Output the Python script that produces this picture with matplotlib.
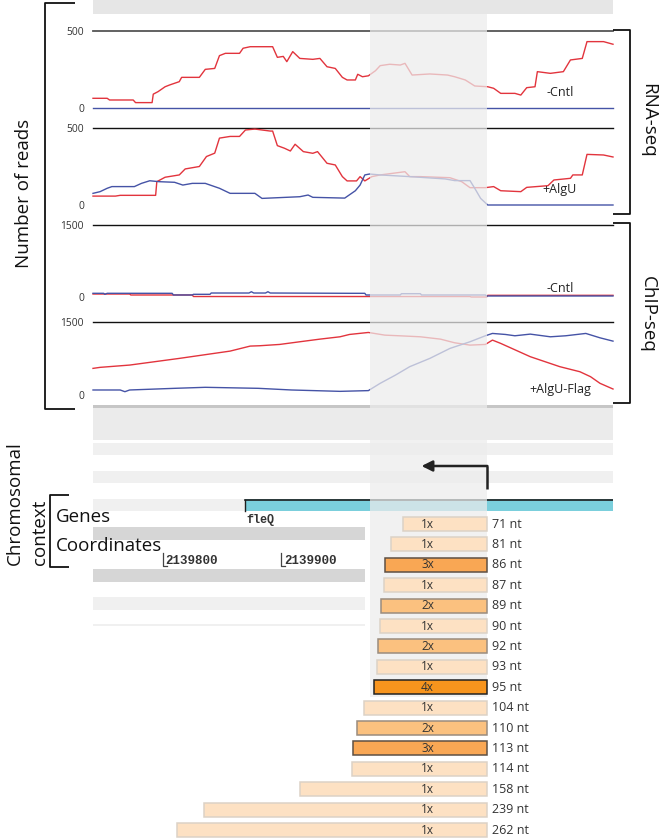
import matplotlib
matplotlib.use("Agg")
import matplotlib.pyplot as plt
from matplotlib.patches import Rectangle

plt.rcParams['font.family'] = ['Open Sans', 'DejaVu Sans']

# genome window shown by the browser
X0, X1 = 2139741, 2140181
TSS = 2140074
HL_START = 2139975
GENE_START = 2139870
GENE_NAME = 'fleQ'
COORD_TICKS = [2139800, 2139900]

# RNA-seq, -Cntl
rna_cntl_x = [2139741, 2139753, 2139755, 2139775, 2139777, 2139791, 2139792, 2139796, 2139802, 2139806,
              2139814, 2139816, 2139831, 2139836, 2139844, 2139848, 2139853, 2139865, 2139868, 2139874,
              2139893, 2139897, 2139902, 2139905, 2139910, 2139916, 2139927, 2139933, 2139939, 2139946,
              2139952, 2139956, 2139963, 2139965, 2139969, 2139974, 2139980, 2139984, 2139992, 2140001,
              2140005, 2140011, 2140026, 2140041, 2140047, 2140056, 2140064, 2140075, 2140080, 2140086,
              2140098, 2140103, 2140108, 2140115, 2140117, 2140128, 2140139, 2140145, 2140155, 2140159,
              2140173, 2140181]
rna_cntl_red = [63, 63, 52, 52, 35, 35, 90, 106, 138, 150,
                171, 199, 199, 251, 257, 340, 355, 355, 388, 398,
                398, 329, 335, 301, 366, 322, 316, 322, 268, 257,
                199, 182, 182, 219, 203, 209, 242, 275, 284, 279,
                290, 214, 221, 214, 203, 182, 143, 138, 128, 95,
                95, 84, 132, 138, 236, 225, 236, 312, 322, 431,
                431, 414]
rna_cntl_blue_x = [X0, X1]
rna_cntl_blue = [0, 0]

# RNA-seq, +AlgU
rna_algu_red_x = [2139741, 2139760, 2139764, 2139794, 2139795, 2139802, 2139814, 2139819, 2139831, 2139837,
                  2139844, 2139848, 2139857, 2139865, 2139870, 2139878, 2139891, 2139893, 2139897, 2139903,
                  2139908, 2139912, 2139919, 2139927, 2139931, 2139939, 2139946, 2139952, 2139956, 2139964,
                  2139967, 2139971, 2139977, 2139984, 2140005, 2140009, 2140018, 2140043, 2140053, 2140060,
                  2140073, 2140080, 2140086, 2140103, 2140108, 2140126, 2140131, 2140145, 2140147, 2140155,
                  2140159, 2140173, 2140181]
rna_algu_red = [58, 58, 63, 63, 152, 181, 196, 235, 251, 316,
                338, 436, 447, 447, 489, 495, 482, 482, 387, 370,
                352, 396, 348, 337, 348, 272, 261, 185, 157, 157,
                185, 157, 185, 196, 217, 185, 185, 178, 152, 113,
                113, 120, 93, 87, 115, 126, 163, 174, 196, 196,
                330, 326, 313]
rna_algu_blue_x = [2139741, 2139747, 2139753, 2139757, 2139776, 2139782, 2139789, 2139797, 2139810, 2139817,
                   2139825, 2139836, 2139848, 2139857, 2139878, 2139884, 2139916, 2139923, 2139927, 2139954,
                   2139963, 2139967, 2139971, 2139975, 2139984, 2140009, 2140039, 2140047, 2140060, 2140064,
                   2140069, 2140075, 2140181]
rna_algu_blue = [76, 87, 109, 120, 120, 141, 158, 152, 148, 130,
                 141, 141, 109, 76, 76, 43, 54, 65, 50, 45,
                 93, 130, 196, 202, 196, 185, 170, 159, 159, 109,
                 43, 0, 0]

# ChIP-seq, -Cntl
chip_cntl_blue_x = [2139741, 2139750, 2139751, 2139753, 2139808, 2139809, 2139825, 2139826, 2139840, 2139841,
                    2139873, 2139875, 2139877, 2139887, 2139889, 2139891, 2139958, 2139971, 2139972, 2140001,
                    2140002, 2140018, 2140019, 2140073, 2140074, 2140181]
chip_cntl_blue = [77, 77, 56, 77, 77, 42, 42, 56, 56, 83,
                  83, 110, 83, 83, 110, 83, 77, 77, 42, 42,
                  69, 69, 42, 42, 21, 21]
chip_cntl_red_x = [2139741, 2139772, 2139773, 2139825, 2139826, 2140060, 2140061, 2140074, 2140075, 2140181]
chip_cntl_red = [62, 62, 42, 42, 10, 10, 0, 0, 35, 35]

# ChIP-seq, +AlgU-Flag
chip_algu_red_x = [2139741, 2139747, 2139772, 2139814, 2139857, 2139874, 2139882, 2139899, 2139916, 2139933,
                   2139950, 2139958, 2139974, 2139988, 2140001, 2140018, 2140035, 2140047, 2140060, 2140073,
                   2140079, 2140086, 2140111, 2140136, 2140153, 2140162, 2140170, 2140181]
chip_algu_red = [547, 568, 615, 752, 902, 1005, 1012, 1039, 1094, 1148,
                 1196, 1244, 1285, 1230, 1216, 1196, 1148, 1073, 1025, 1039,
                 1128, 1060, 787, 582, 478, 376, 240, 123]
chip_algu_blue_x = [2139741, 2139764, 2139768, 2139772, 2139810, 2139836, 2139881, 2139909, 2139950, 2139974,
                    2139984, 2139997, 2140009, 2140026, 2140043, 2140060, 2140073, 2140079, 2140090, 2140098,
                    2140111, 2140128, 2140141, 2140158, 2140170, 2140181]
chip_algu_blue = [103, 103, 68, 103, 137, 158, 137, 103, 75, 90,
                  240, 410, 582, 752, 957, 1094, 1217, 1265, 1244, 1217,
                  1251, 1196, 1217, 1265, 1175, 1107]

# 5' RACE fragments upstream of the TSS
frag_len = [71, 81, 86, 87, 89, 90, 92, 93, 95, 104, 110, 113, 114, 158, 239, 262]
frag_count = [1, 1, 3, 1, 2, 1, 2, 1, 4, 1, 2, 3, 1, 1, 1, 1]

RED = '#e2343d'
BLUE = '#4553a6'
fill_col = {1: '#fde1c3', 2: '#fbc17f', 3: '#f9a754', 4: '#f7941d'}
edge_col = {1: '#dcd2c6', 2: '#9a8c7e', 3: '#5e5044', 4: '#222222'}

W, H = 660, 839
fig = plt.figure(figsize=(W / 100, H / 100), dpi=100)


def box(x0, y0, x1, y1):
    return [x0 / W, 1 - y1 / H, (x1 - x0) / W, (y1 - y0) / H]


# browser tracks (grey bands, gene, coordinates)
trk = fig.add_axes(box(93, 0, 613, 839), zorder=0)
trk.set_xlim(X0, X1)
trk.set_ylim(H, 0)
trk.axis('off')
bands = [(0, 14, '#e6e6e6', X1), (405, 407.5, '#c6c6c6', X1), (407.5, 440, '#ebebeb', X1),
         (443, 455, '#f0f0f0', X1), (471, 483, '#f0f0f0', X1), (499, 511, '#f0f0f0', X1),
         (527, 540, '#d6d6d6', 2139971), (569, 582, '#d6d6d6', 2139971),
         (597, 610, '#f0f0f0', 2139971), (624, 626, '#f0f0f0', 2139971)]
for y0, y1, c, xe in bands:
    trk.add_patch(Rectangle((X0, y0), xe - X0, y1 - y0, color=c, lw=0))
trk.add_patch(Rectangle((GENE_START, 499), X1 - GENE_START + 10, 12, color='#7bcfdc', lw=0))
trk.plot([GENE_START, X1], [499.5, 499.5], color='#1e1e1e', lw=1.2)
trk.plot([GENE_START, GENE_START], [499.5, 511], color='#1e1e1e', lw=1.0)
trk.text(GENE_START + 1, 520.5, GENE_NAME, family='Liberation Mono', weight='bold',
         fontsize=8.5, color='#333333', va='center', ha='left')
for c in COORD_TICKS:
    trk.plot([c, c, c + 3.5], [553, 566, 566], color='#444444', lw=0.9)
    trk.text(c + 2.5, 561.5, str(c), family='Liberation Mono', weight='bold',
             fontsize=9, color='#333333', va='center', ha='left')

# coverage panels
panels = [
    ((31, 108), 500, [(rna_cntl_blue_x, rna_cntl_blue, BLUE), (rna_cntl_x, rna_cntl_red, RED)], '-Cntl', 93, '#555555', 1.3),
    ((128.3, 205), 500, [(rna_algu_red_x, rna_algu_red, RED), (rna_algu_blue_x, rna_algu_blue, BLUE)], '+AlgU', 190, '#111111', 1.0),
    ((225, 297), 1500, [(chip_cntl_red_x, chip_cntl_red, RED), (chip_cntl_blue_x, chip_cntl_blue, BLUE)], '-Cntl', 289, '#111111', 1.0),
    ((322, 395), 1500, [(chip_algu_red_x, chip_algu_red, RED), (chip_algu_blue_x, chip_algu_blue, BLUE)], '+AlgU-Flag', 389, '#111111', 1.0),
]
for (ytop, ybot), ymax, series, label, ylab, topc, toplw in panels:
    ax = fig.add_axes(box(93, ytop, 613, ybot), zorder=1)
    ax.set_xlim(X0, X1)
    ax.set_ylim(0, ymax)
    ax.patch.set_alpha(0)
    for s in ax.spines.values():
        s.set_visible(False)
    ax.set_xticks([])
    ax.set_yticks([0, ymax])
    ax.set_yticklabels(['0', str(ymax)])
    ax.tick_params(axis='y', length=0, pad=6.5, labelsize=7.4, labelcolor='#333333')
    ax.axhline(ymax, color=topc, lw=toplw, clip_on=False)
    for xs, ys, col in series:
        ax.plot(xs, ys, color=col, lw=1.0, clip_on=False)
    fig.text(560 / W, 1 - ylab / H, label, fontsize=9, color='#222222', ha='center', va='center', zorder=5)

# highlighted promoter window and TSS arrow
hl = fig.add_axes(box(93, 0, 613, 839), zorder=2)
hl.set_xlim(X0, X1)
hl.set_ylim(H, 0)
hl.axis('off')
hl.patch.set_alpha(0)
hl.add_patch(Rectangle((HL_START, 14), TSS - HL_START, 683, color='#ececec', alpha=0.72, lw=0))
hl.plot([TSS, TSS], [489, 466], color='#222222', lw=1.8, solid_capstyle='butt')
hl.annotate('', xy=(2140019, 466), xytext=(TSS + 0.7, 466),
            arrowprops=dict(arrowstyle='-|>', color='#222222', lw=1.8,
                            mutation_scale=16, shrinkA=0, shrinkB=0))

# fragment bars
bx = fig.add_axes(box(93, 513.8, 613, 840.2), zorder=3)
bx.set_xlim(X0, X1)
bx.set_ylim(len(frag_len) - 0.5, -0.5)
bx.axis('off')
bx.patch.set_alpha(0)
for i, (L, n) in enumerate(zip(frag_len, frag_count)):
    bx.barh(i, L, left=TSS - L, height=0.68, color=fill_col[n], edgecolor=edge_col[n], lw=1.1)
    bx.text(TSS - 50, i, f'{n}x', fontsize=8.5, color='#333333', ha='center', va='center')
    bx.text(TSS + 5, i, f'{L} nt', fontsize=9, color='#333333', ha='left', va='center')

# brackets and side labels
pix = fig.add_axes([0, 0, 1, 1], zorder=4)
pix.set_xlim(0, W)
pix.set_ylim(H, 0)
pix.axis('off')
pix.patch.set_alpha(0)
bk = dict(color='#111111', lw=1.3, solid_capstyle='butt')
pix.plot([75, 45, 45, 75], [3, 3, 409, 409], **bk)
pix.plot([613, 630, 630, 613], [30, 30, 214, 214], **bk)
pix.plot([613, 630, 630, 613], [223, 223, 403, 403], **bk)
pix.plot([69, 50, 50, 69], [495, 495, 567, 567], **bk)
pix.text(24, 193, 'Number of reads', fontsize=13.5, rotation=90, ha='center', va='center', color='#111111')
pix.text(648, 120, 'RNA-seq', fontsize=13.5, rotation=-90, ha='center', va='center', color='#111111')
pix.text(648, 314, 'ChIP-seq', fontsize=13.5, rotation=-90, ha='center', va='center', color='#111111')
pix.text(19.5, 565, 'Chromosomal', fontsize=13.5, rotation=90, rotation_mode='anchor',
         ha='left', va='baseline', color='#111111')
pix.text(45, 565, 'context', fontsize=13.5, rotation=90, rotation_mode='anchor',
         ha='left', va='baseline', color='#111111')
pix.text(56, 517, 'Genes', fontsize=13.5, ha='left', va='center', color='#111111')
pix.text(56, 546, 'Coordinates', fontsize=13.5, ha='left', va='center', color='#111111')

fig.savefig('out.png', dpi=100)
